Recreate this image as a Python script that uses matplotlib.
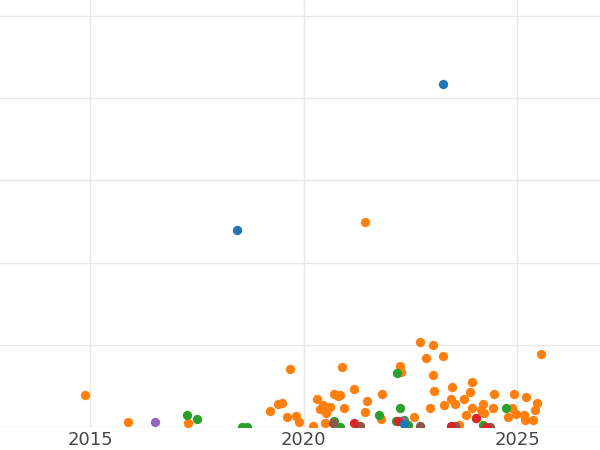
import matplotlib
matplotlib.use("Agg")
import matplotlib.pyplot as plt

def conv(pts):
    return [2012.89 + px/42.7 for px, py in pts], [(427 - py)/0.82 for px, py in pts]

blue_px = [(237,230),(443,85),(404,424)]
orange_px = [(85,395),(128,422),(188,423),(270,411),(278,404),(282,403),(287,417),(290,369),(296,416),(299,422),(313,426),(317,399),(320,409),(323,405),(326,413),(330,407),(334,394),(338,396),(340,395),(342,367),(344,408),(354,389),(365,222),(365,412),(367,401),(382,394),(381,419),(400,366),(401,372),(414,417),(420,342),(426,358),(430,408),(433,345),(434,391),(433,375),(443,356),(444,405),(451,399),(452,387),(455,404),(464,399),(466,415),(470,392),(472,382),(472,408),(476,418),(481,410),(483,404),(484,413),(493,408),(494,394),(508,417),(514,394),(516,414),(524,415),(526,397),(525,420),(533,420),(535,410),(537,403),(541,354),(512,408),(459,425),(325,423)]
green_px = [(187,415),(197,419),(242,427),(247,427),(379,415),(397,373),(400,408),(404,420),(396,421),(408,425),(483,425),(506,408),(334,421),(340,427)]
red_px = [(354,423),(398,421),(476,418),(451,426),(486,427)]
purple_px = [(155,422),(402,421)]
brown_px = [(333,423),(360,426),(420,426),(455,426),(490,427)]

series = [(orange_px,'#ff7f0e'),(green_px,'#2ca02c'),(brown_px,'#8c564b'),(purple_px,'#9467bd'),(red_px,'#d62728'),(blue_px,'#1f77b4')]

fig = plt.figure(figsize=(6,4.5), dpi=100)
ax = fig.add_axes([0,0.052,1,0.948])
for pts,c in series:
    x,y = conv(pts)
    ax.scatter(x,y,s=45,color=c,zorder=3,linewidths=0)
ax.set_xlim(2012.89, 2026.94)
ax.set_ylim(0, 520)
ax.set_yticks([0,100,200,300,400,500])
ax.set_yticklabels([])
ax.tick_params(axis='y', length=0)
ax.set_xticks([2015,2020,2025])
ax.tick_params(axis='x', length=0, labelsize=13, colors='#444444', pad=3)
ax.grid(True, color='#e8e8e8', linewidth=1, zorder=0)
for s in ax.spines.values():
    s.set_visible(False)
fig.savefig('out.png', dpi=100)
